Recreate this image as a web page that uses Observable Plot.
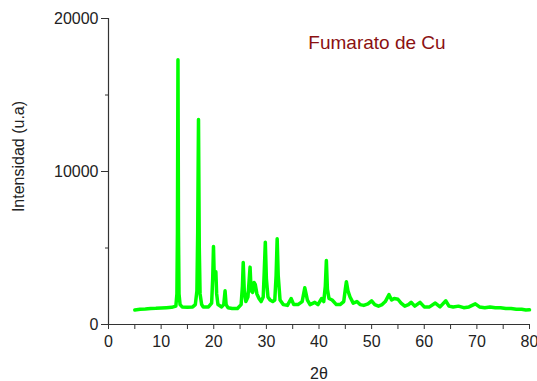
<!DOCTYPE html>
<html>
<head>
<meta charset="utf-8">
<script src="https://cdn.jsdelivr.net/npm/d3@7"></script>
<script src="https://cdn.jsdelivr.net/npm/@observablehq/plot@0.6"></script>
<style>
  html, body { margin: 0; padding: 0; background: #fff; }
  #chart { width: 537px; height: 381px; }
</style>
</head>
<body>
<div id="chart"></div>
<script>
// 2θ positions (degrees)
const twoTheta = [
  5, 6, 7, 8, 9, 10, 11, 12, 12.8, 13.0, 13.1, 13.2, 13.3, 13.4, 13.6, 14, 15, 16, 16.5, 16.8,
  16.95, 17.1, 17.25, 17.4, 17.7, 18, 19, 19.6, 19.8, 19.95, 20.1, 20.25, 20.4, 20.55, 20.8, 21.5,
  21.9, 22.15, 22.35, 22.7, 23.5, 24.5, 25.2, 25.45, 25.6, 25.8, 26.1, 26.5, 26.75, 26.9, 27.1,
  27.4, 27.65, 27.9, 28.2, 28.6, 29.0, 29.4, 29.6, 29.8, 30.0, 30.3, 30.7, 31.2, 31.6, 31.85,
  32.05, 32.25, 32.6, 33.2, 34.0, 34.7, 35.2, 36.0, 36.8, 37.3, 37.8, 38.3, 39.2, 39.8, 40.5,
  40.9, 41.2, 41.4, 41.6, 41.9, 42.5, 43.3, 44.0, 44.7, 45.0, 45.2, 45.5, 45.9, 46.5, 47.2, 47.8,
  48.5, 49.3, 50.0, 50.6, 51.3, 52.0, 52.6, 53.3, 53.8, 54.3, 55.0, 55.6, 56.3, 57.0, 57.5, 58.2,
  59.2, 60.0, 61.0, 62.1, 63.0, 64.1, 64.7, 65.5, 66.5, 67.5, 68.5, 69.7, 70.5, 71.5, 72.5, 73.5,
  74.5, 75.5, 76.5, 77.5, 78.5, 79.3, 80
];
// Intensity (u.a) at each position
const intensity = [
  950, 1000, 1020, 1050, 1060, 1080, 1100, 1120, 1200, 2000, 6000, 17300, 6000, 2000, 1300, 1150, 1120, 1150, 1300, 2200,
  6000, 13400, 5000, 2000, 1300, 1150, 1150, 1400, 3000, 5100, 3000, 3000, 3450, 2000, 1300, 1150,
  1300, 2200, 1300, 1100, 1050, 1050, 1300, 2500, 4050, 2200, 1500, 1800, 3000, 3750, 2200,
  2100, 2750, 2600, 2000, 1700, 1500, 1800, 3500, 5380, 3000, 1800, 1600, 1500, 1600, 3200,
  5600, 3200, 1600, 1300, 1250, 1700, 1300, 1300, 1500, 2400, 1600, 1300, 1450, 1300, 1700,
  1500, 2500, 4180, 2300, 1700, 1600, 1300, 1300, 1500, 2300, 2800, 2200, 1800, 1400, 1500, 1300,
  1250, 1350, 1550, 1300, 1200, 1300, 1500, 1950, 1600, 1700, 1650, 1400, 1200, 1300, 1450, 1200,
  1450, 1150, 1150, 1400, 1150, 1550, 1200, 1150, 1200, 1100, 1150, 1350, 1150, 1100, 1150, 1100,
  1100, 1050, 1050, 1000, 1000, 950, 960
];
const xMajor = [0, 10, 20, 30, 40, 50, 60, 70, 80];
const xMinor = [5, 15, 25, 35, 45, 55, 65, 75];
const yMajor = [0, 10000, 20000];
const yMinor = [5000, 15000];
const title = "Fumarato de Cu";
const xLabel = "2θ";
const yLabel = "Intensidad (u.a)";

const data = twoTheta.map((t, i) => ({t, v: intensity[i]}));

const chart = Plot.plot({
  width: 537,
  height: 381,
  marginLeft: 108,
  marginTop: 18,
  marginBottom: 57,
  marginRight: 8,
  style: {fontFamily: "'Liberation Sans', Arial, sans-serif", fontSize: "16px", color: "#222", background: "#fff"},
  x: {domain: [0, 80]},
  y: {domain: [0, 20000]},
  marks: [
    Plot.line(data, {x: "t", y: "v", stroke: "#00ff00", strokeWidth: 3.5, strokeLinejoin: "round"}),
    Plot.ruleX([0], {stroke: "#333", strokeWidth: 1.2}),
    Plot.ruleY([0], {stroke: "#333", strokeWidth: 1.2}),
    Plot.axisX({ticks: xMajor, tickSize: 5, tickPadding: 6, tickFormat: d => String(d), label: null, stroke: "#333", fontSize: 16}),
    Plot.axisX({ticks: xMinor, tickSize: 5, text: null, label: null, stroke: "#333"}),
    Plot.axisY({ticks: yMajor, tickSize: 7, tickPadding: 3, tickFormat: d => String(d), label: null, stroke: "#333", fontSize: 16}),
    Plot.axisY({ticks: yMinor, tickSize: 3, text: null, label: null, stroke: "#333"}),
    Plot.text([yLabel], {frameAnchor: "left", textAnchor: "middle", lineAnchor: "middle", dx: -90, dy: -15, rotate: -90, fontSize: 16, fill: "#222"}),
    Plot.text([xLabel], {frameAnchor: "bottom", textAnchor: "middle", lineAnchor: "middle", dy: 49, fontSize: 16, fill: "#222"}),
    Plot.text([title], {frameAnchor: "top", textAnchor: "middle", lineAnchor: "middle", dx: 58, dy: 24, fontSize: 19, fill: "#8b1111"})
  ]
});
document.getElementById("chart").appendChild(chart);
</script>
</body>
</html>
